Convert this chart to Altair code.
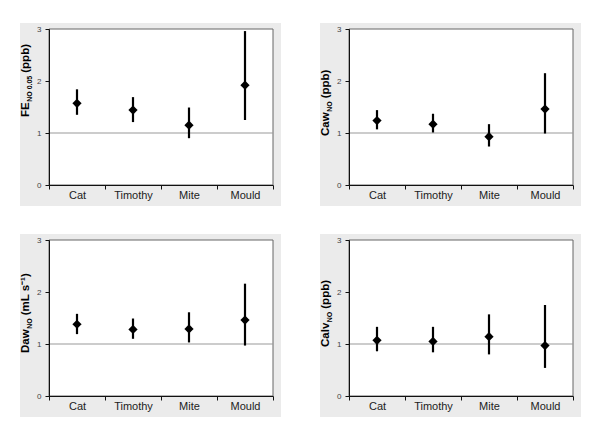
import altair as alt
import pandas as pd

categories = ["Cat", "Timothy", "Mite", "Mould"]

fe_mean = [1.57, 1.44, 1.15, 1.92]
fe_low = [1.35, 1.21, 0.90, 1.25]
fe_high = [1.84, 1.69, 1.49, 2.96]

caw_mean = [1.24, 1.17, 0.93, 1.46]
caw_low = [1.07, 1.01, 0.74, 0.99]
caw_high = [1.44, 1.37, 1.17, 2.15]

daw_mean = [1.38, 1.28, 1.29, 1.46]
daw_low = [1.19, 1.10, 1.03, 0.97]
daw_high = [1.58, 1.49, 1.61, 2.16]

calv_mean = [1.07, 1.05, 1.14, 0.97]
calv_low = [0.86, 0.84, 0.80, 0.54]
calv_high = [1.33, 1.33, 1.57, 1.75]

y_ticks = [0, 1, 2, 3]
reference_value = 1

FONT = "Liberation Sans"
W, H = 224, 156
MAIN_SIZE = 11.5
SUB_SIZE = 7

# Arial/Liberation Sans Bold advance widths (em/1000) for title layout
_BOLD = {
    "C": 722, "a": 556, "w": 778, "D": 722, "l": 278, "v": 556, "F": 611,
    "E": 667, "N": 722, "O": 778, " ": 278, "0": 556, ".": 278, "5": 556,
    "(": 333, "p": 611, "b": 611, ")": 333, "m": 889, "L": 611, "s": 556,
    "\u207b": 350, "\u00b9": 333,
}


def text_width(s, size):
    return sum(_BOLD.get(c, 600) for c in s) / 1000 * size


def panel(mean, low, high, main, sub, rest, start):
    df = pd.DataFrame({"cat": categories, "mean": mean, "low": low, "high": high})
    one = pd.DataFrame({"k": [0]})
    xenc = alt.X(
        "cat:N",
        sort=categories,
        scale=alt.Scale(paddingInner=0, paddingOuter=0),
        axis=alt.Axis(
            title=None, labelAngle=0, tickBand="extent", labelFont=FONT,
            labelFontSize=11, labelColor="#222", tickSize=4, labelPadding=0,
            domainColor="#111", tickColor="#111", zindex=1,
        ),
    )
    yscale = alt.Scale(domain=[0, 3], nice=False, zero=True)
    yaxis = alt.Axis(
        title=None, values=y_ticks, grid=False, labelFont=FONT, labelFontSize=8,
        labelColor="#444", tickSize=4, labelPadding=4, domainColor="#111",
        tickColor="#111", zindex=1,
    )
    gray = alt.Chart(one).mark_rect(color="#ebebeb").encode(
        x=alt.value(-29), x2=alt.value(232), y=alt.value(-6), y2=alt.value(177)
    )
    white = alt.Chart(one).mark_rect(fill="white", stroke="#666", strokeWidth=1).encode(
        x=alt.value(0), x2=alt.value(W), y=alt.value(0), y2=alt.value(H)
    )
    ref = alt.Chart(one).mark_rule(color="#999", strokeWidth=1).encode(
        y=alt.datum(reference_value, scale=yscale, axis=yaxis)
    )
    bars = alt.Chart(df).mark_rule(color="black", strokeWidth=2.2).encode(
        x=xenc, y=alt.Y("low:Q", scale=yscale, axis=yaxis), y2="high:Q"
    )
    pts = alt.Chart(df).mark_point(
        shape="diamond", filled=True, color="black", opacity=1, size=85
    ).encode(x=xenc, y=alt.Y("mean:Q", scale=yscale, axis=yaxis))

    y_main = start
    y_sub = y_main - text_width(main, MAIN_SIZE) - 0.5
    y_rest = y_sub - text_width(sub, SUB_SIZE) - 3
    t_main = alt.Chart(one).mark_text(
        text=main, font=FONT, fontSize=MAIN_SIZE, fontWeight="bold", angle=270,
        align="left", baseline="middle", color="black"
    ).encode(x=alt.value(-23), y=alt.value(y_main))
    t_sub = alt.Chart(one).mark_text(
        text=sub, font=FONT, fontSize=SUB_SIZE, fontWeight="bold", angle=270,
        align="left", baseline="middle", color="black"
    ).encode(x=alt.value(-19.5), y=alt.value(y_sub))
    t_rest = alt.Chart(one).mark_text(
        text=rest, font=FONT, fontSize=MAIN_SIZE, fontWeight="bold", angle=270,
        align="left", baseline="middle", color="black"
    ).encode(x=alt.value(-23), y=alt.value(y_rest))
    return alt.layer(gray, white, ref, bars, pts, t_main, t_sub, t_rest).properties(
        width=W, height=H
    )


p1 = panel(fe_mean, fe_low, fe_high, "FE", "NO 0.05", "(ppb)", 88)
p2 = panel(caw_mean, caw_low, caw_high, "Caw", "NO", "(ppb)", 107)
p3 = panel(daw_mean, daw_low, daw_high, "Daw", "NO", "(mL s\u207b\u00b9)", 113)
p4 = panel(calv_mean, calv_low, calv_high, "Calv", "NO", "(ppb)", 107)

chart = alt.vconcat(
    alt.hconcat(p1, p2, spacing=39),
    alt.hconcat(p3, p4, spacing=39),
    spacing=28,
).properties(
    padding={"left": 12, "top": 15, "right": 5, "bottom": 5},
    background="white",
).configure_view(stroke=None).configure_concat(spacing=28)

chart.save("out.html", embed_options={"renderer": "svg", "actions": False})
